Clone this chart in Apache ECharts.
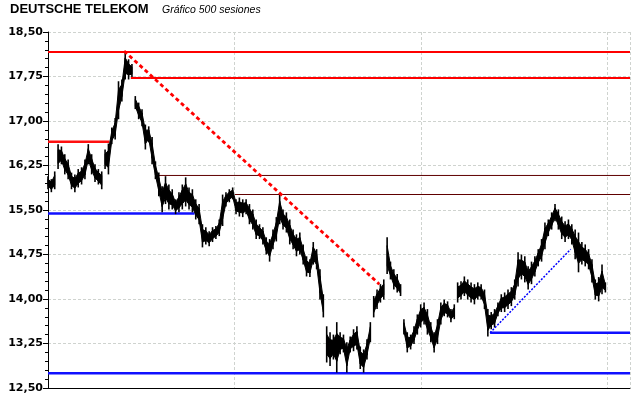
<!DOCTYPE html>
<html>
<head>
<meta charset="utf-8">
<script src="https://cdn.jsdelivr.net/npm/echarts@6/dist/echarts.min.js"></script>
<style>html,body{margin:0;padding:0;background:#fff}#c{width:640px;height:398px}</style>
</head>
<body>
<div id="c"></div>
<script>
// Session index of each sampled bar (every 3 sessions)
const sessions = Array.from({length: 167}, (_, k) => 3 * k);
const highs = [16.07,16.02,16.15,16.61,16.57,16.44,16.35,16.13,16.10,16.19,16.22,16.35,16.61,16.44,16.27,16.19,16.15,16.52,16.62,16.89,
17.05,17.67,17.70,18.17,18.04,17.96,17.42,17.31,17.20,16.94,16.91,16.73,16.32,16.13,15.90,16.07,15.93,15.85,15.68,15.80,
15.93,16.05,15.88,15.85,15.68,15.60,15.26,15.21,15.14,15.21,15.23,15.34,15.76,15.80,15.85,15.88,15.68,15.71,15.68,15.68,
15.60,15.51,15.34,15.26,15.21,15.04,15.01,15.17,15.38,15.76,15.51,15.46,15.34,15.17,15.09,15.12,14.92,14.72,14.67,14.96,
14.84,14.50,14.08,13.54,13.44,13.40,13.61,13.44,13.40,13.27,13.37,13.49,13.54,13.20,13.15,13.32,13.61,14.05,14.16,14.25,
14.33,15.04,14.63,14.50,14.42,14.25,13.66,13.44,13.40,13.54,13.74,13.91,13.94,13.83,13.61,13.44,13.66,13.94,13.99,13.96,
13.83,13.91,14.28,14.30,14.38,14.33,14.28,14.25,14.28,14.25,14.16,13.83,13.78,13.83,13.94,14.08,14.11,14.16,14.20,14.33,
14.79,14.75,14.72,14.55,14.63,14.72,14.84,15.01,15.29,15.34,15.46,15.60,15.51,15.39,15.31,15.34,15.26,15.17,15.12,14.96,
14.92,14.84,14.67,14.33,14.37,14.58,14.28];
const lows = [15.85,15.80,15.85,16.19,16.27,16.10,16.02,15.85,15.80,15.88,15.93,16.02,16.27,16.10,15.97,15.93,15.85,16.19,16.10,16.61,
16.69,17.03,17.33,17.70,17.70,17.74,17.20,17.03,16.91,16.52,16.64,16.27,16.02,15.73,15.46,15.60,15.51,15.51,15.43,15.46,
15.51,15.56,15.51,15.46,15.34,15.26,14.87,14.92,14.89,14.96,15.01,15.06,15.23,15.56,15.63,15.68,15.43,15.39,15.38,15.43,
15.26,15.17,15.01,15.01,14.92,14.75,14.63,14.84,14.97,15.26,15.17,15.12,14.92,14.84,14.72,14.75,14.58,14.38,14.37,14.58,
14.50,13.99,13.69,12.93,12.87,12.98,12.76,13.07,13.10,12.76,13.10,13.12,13.15,12.82,12.76,12.98,13.27,13.69,13.83,13.94,
13.99,14.42,14.33,14.16,14.11,14.05,13.40,13.10,13.15,13.24,13.40,13.52,13.57,13.40,13.27,13.10,13.24,13.57,13.71,13.69,
13.61,13.66,13.94,13.99,14.05,13.99,13.94,13.91,13.99,13.99,13.83,13.37,13.49,13.52,13.71,13.78,13.78,13.83,13.88,13.99,
14.21,14.33,14.28,14.16,14.25,14.38,14.55,14.63,14.84,15.06,15.17,15.31,15.17,15.01,14.96,15.01,14.92,14.67,14.45,14.58,
14.55,14.50,14.28,13.99,13.96,14.08,14.11];

// Horizontal support / resistance levels: [fromSession, toSession, price]
const redLevels = [[0, 520, 18.163], [74, 520, 17.725]];
const redThickLevels = [[0, 55, 16.65]];
const darkLevels = [[98, 520, 16.082], [167, 520, 15.761]];
const blueLevels = [[0, 131, 15.44], [0, 520, 12.75], [395, 520, 13.43]];
// Trend lines: [session, price] pairs
const redTrend = [[68, 18.18], [296, 14.25]];
const blueTrend = [[395, 13.43], [467, 14.84]];

// Y axis range / tick step
const yMin = 12.5, yMax = 18.5, yStep = 0.75;
const xMin = 0, xMax = 520, xGridStep = 500 / 3;

// each item: session, low, high, next session, next low, next high
const bars = sessions.map((s, i) => {
  const j = Math.min(i + 1, sessions.length - 1);
  return [s, lows[i], highs[i], sessions[j], lows[j], highs[j]];
});

function levelSeries(levels, color, width, z) {
  return levels.map(l => ({
    type: 'line', data: [[l[0], l[2]], [l[1], l[2]]], symbol: 'none', silent: true,
    lineStyle: {color: color, width: width, type: 'solid'}, z: z, animation: false
  }));
}

const chart = echarts.init(document.getElementById('c'), null, {renderer: 'canvas'});
chart.setOption({
  animation: false,
  backgroundColor: '#ffffff',
  title: [
    {text: 'DEUTSCHE TELEKOM', left: 10, top: 3, padding: 0,
     textStyle: {fontFamily: 'Liberation Sans, Arial, sans-serif', fontWeight: 'bold', fontSize: 13, color: '#000'}},
    {text: 'Gráfico 500 sesiones', left: 162, top: 5, padding: 0,
     textStyle: {fontFamily: 'Liberation Sans, Arial, sans-serif', fontStyle: 'italic', fontWeight: 'normal', fontSize: 10.5, color: '#000'}}
  ],
  grid: {left: 48, right: 10, top: 32, bottom: 10, containLabel: false},
  xAxis: {
    type: 'value', min: xMin, max: xMax, interval: xGridStep,
    axisLine: {show: true, onZero: false, lineStyle: {color: '#000', width: 1}},
    axisTick: {show: false}, axisLabel: {show: false},
    splitLine: {show: true, lineStyle: {color: '#cfd3cf', type: [3, 2], width: 1}}
  },
  yAxis: {
    type: 'value', min: yMin, max: yMax, interval: yStep,
    axisLine: {show: true, lineStyle: {color: '#000', width: 1}},
    axisTick: {show: true, length: 5, lineStyle: {color: '#000'}},
    minorTick: {show: true, splitNumber: 5, length: 3, lineStyle: {color: '#000'}},
    axisLabel: {
      color: '#000', fontFamily: 'DejaVu Sans, Verdana, sans-serif', fontWeight: 'bold', fontSize: 11, margin: 5,
      formatter: v => v.toFixed(2).replace('.', ',')
    },
    splitLine: {show: true, lineStyle: {color: '#cfd3cf', type: [3, 2], width: 1}}
  },
  series: [
    ...levelSeries(redLevels, '#ff0000', 2, 3),
    ...levelSeries(redThickLevels, '#ff1010', 2.5, 3),
    ...levelSeries(darkLevels, '#600000', 1, 3),
    ...levelSeries(blueLevels, '#1010ff', 2.5, 3),
    {
      type: 'custom', z: 5, animation: false, silent: true,
      data: bars,
      encode: {x: 0, y: [1, 2]},
      renderItem: function (params, api) {
        const h0 = api.coord([api.value(0), api.value(2)]);
        const l0 = api.coord([api.value(0), api.value(1)]);
        const h1 = api.coord([api.value(3), api.value(5)]);
        const l1 = api.coord([api.value(3), api.value(4)]);
        const children = [
          {type: 'rect', shape: {x: h0[0] - 0.8, y: h0[1], width: 1.6, height: Math.max(1, l0[1] - h0[1])},
           style: {fill: '#000'}}
        ];
        // connect to the next bar only when the two ranges overlap (keep price gaps open)
        const overlap = api.value(5) >= api.value(1) && api.value(4) <= api.value(2);
        if (overlap && api.value(3) !== api.value(0)) {
          const m0 = (h0[1] + l0[1]) / 2, m1 = (h1[1] + l1[1]) / 2;
          const k = 0.55;
          const poly = [[h0[0], m0 + (h0[1] - m0) * k], [h1[0], m1 + (h1[1] - m1) * k],
                        [l1[0], m1 + (l1[1] - m1) * k], [l0[0], m0 + (l0[1] - m0) * k]];
          children.unshift({type: 'polygon', shape: {points: poly}, style: {fill: '#000', stroke: '#000', lineWidth: 1}});
        }
        return {type: 'group', children: children};
      }
    },
    {type: 'line', data: redTrend, symbol: 'none', silent: true, z: 6, animation: false,
     lineStyle: {color: '#ff0000', width: 2.8, type: [4, 3]}},
    {type: 'line', data: blueTrend, symbol: 'none', silent: true, z: 6, animation: false,
     lineStyle: {color: '#0000ff', width: 1.5, type: [2, 1.5]}}
  ]
});
</script>
</body>
</html>
